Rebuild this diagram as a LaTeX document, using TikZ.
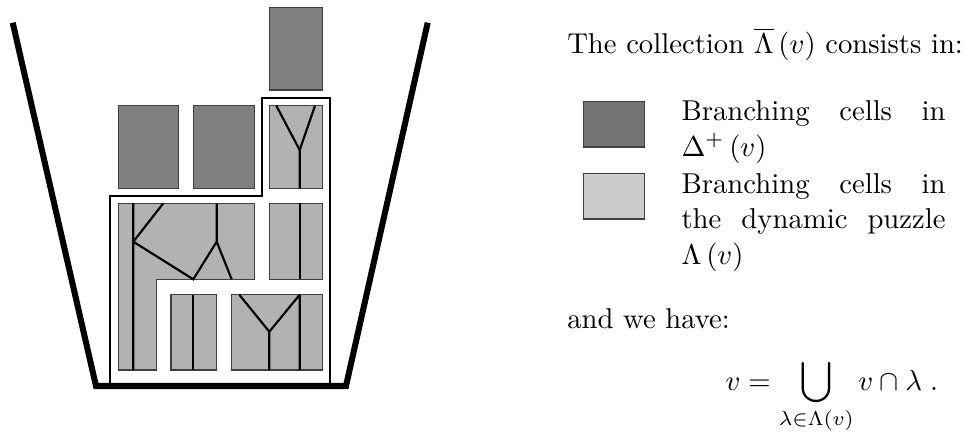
\documentclass[tikz,border=0pt]{standalone}
\usepackage{tikz}
\usetikzlibrary{positioning}
\tikzset{
  deltacell/.style={draw=black!75, line width=0.4pt, fill=black!50},
  puzzlecell/.style={draw=black!75, line width=0.4pt, fill=black!30},
  branch/.style={line width=0.75pt},
  bucket/.style={line width=2.1pt},
  hull/.style={line width=0.8pt},
  legendbox/.style={draw=black!75, line width=0.5pt, minimum width=21.25pt, minimum height=15.8pt, inner sep=0pt},
  caption/.style={anchor=base west, inner sep=0pt},
  itemtext/.style={anchor=north west, inner sep=0pt, text width=92pt, align=justify, font=\fontsize{10}{12.4}\selectfont}
}

\begin{document}
\begin{tikzpicture}[x=0.3484pt, y=-0.3484pt]
        \useasboundingbox (0,0) rectangle (968,436);

        % Cells of Delta^+(v)
        \draw[deltacell] (269.3,7.3) rectangle (322.3,90);
        \draw[deltacell] (118.3,105.7) rectangle (178.7,188.7);
        \draw[deltacell] (193.7,105.7) rectangle (254.3,188.7);

        % Hull of the dynamic puzzle
        \draw[hull] (110.3,386) -- (110.3,196) -- (261.7,196) -- (261.7,97.7) -- (330,97.7) -- (330,386);

        % Cells of Lambda(v)
        \draw[puzzlecell] (269.3,105.7) rectangle (322.3,188.7);
        \draw[branch] (276.3,105.7) -- (299.7,150) -- (315,105.7) (299.7,150) -- (299.7,188.7);

        \draw[puzzlecell] (118.3,203.3) -- (254.3,203.3) -- (254.3,279.3) -- (156.3,279.3) -- (156.3,370) -- (118.3,370) -- cycle;
        \draw[branch] (133.3,203.3) -- (133.3,370) (163.3,203.3) -- (133.3,241.7) -- (193.3,279.3) -- (216.7,241.7) -- (231.7,279.3) (216.7,241.7) -- (216.7,203.3);

        \draw[puzzlecell] (269.3,203.3) rectangle (322.3,279.3);
        \draw[branch] (299.7,203.3) -- (299.7,279.3);

        \draw[puzzlecell] (171,294.7) rectangle (216.3,370);
        \draw[branch] (193.3,294.7) -- (193.3,370);

        \draw[puzzlecell] (231.7,294.7) rectangle (322.3,370);
        \draw[branch] (239.3,294.7) -- (269.3,331.7) -- (299.7,294.7) (269.3,331.7) -- (269.3,370) (299.7,294.7) -- (299.7,370);

        % Bucket
        \draw[bucket] (12.7,22.7) -- (96,386) -- (346,386) -- (427.7,22.7);

        % Legend
        \node[caption] (title) at (566.7,53.3) {The collection $\overline{\Lambda}\left(v\right)$ consists in:};
        \node[legendbox, fill=black!55] (legdelta)  at (613.8,124.3) {};
        \node[legendbox, fill=black!20] (legpuzzle) at (613.8,196.3) {};
        \node[itemtext] (itemdelta)  at (681,100.1) {Branching cells in\linebreak $\Delta^{+}\left(v\right)$};
        \node[itemtext] (itempuzzle) at (681,172.8) {Branching cells in\linebreak the dynamic puzzle\linebreak $\Lambda\left(v\right)$};

        \node[caption] (have)  at (566.7,328.3) {and we have:};
        \node[caption] (union) at (725,390) {$\displaystyle v=\bigcup_{\lambda\in\Lambda(v)} v\cap\lambda\;.$};
    \end{tikzpicture}
\end{document}
